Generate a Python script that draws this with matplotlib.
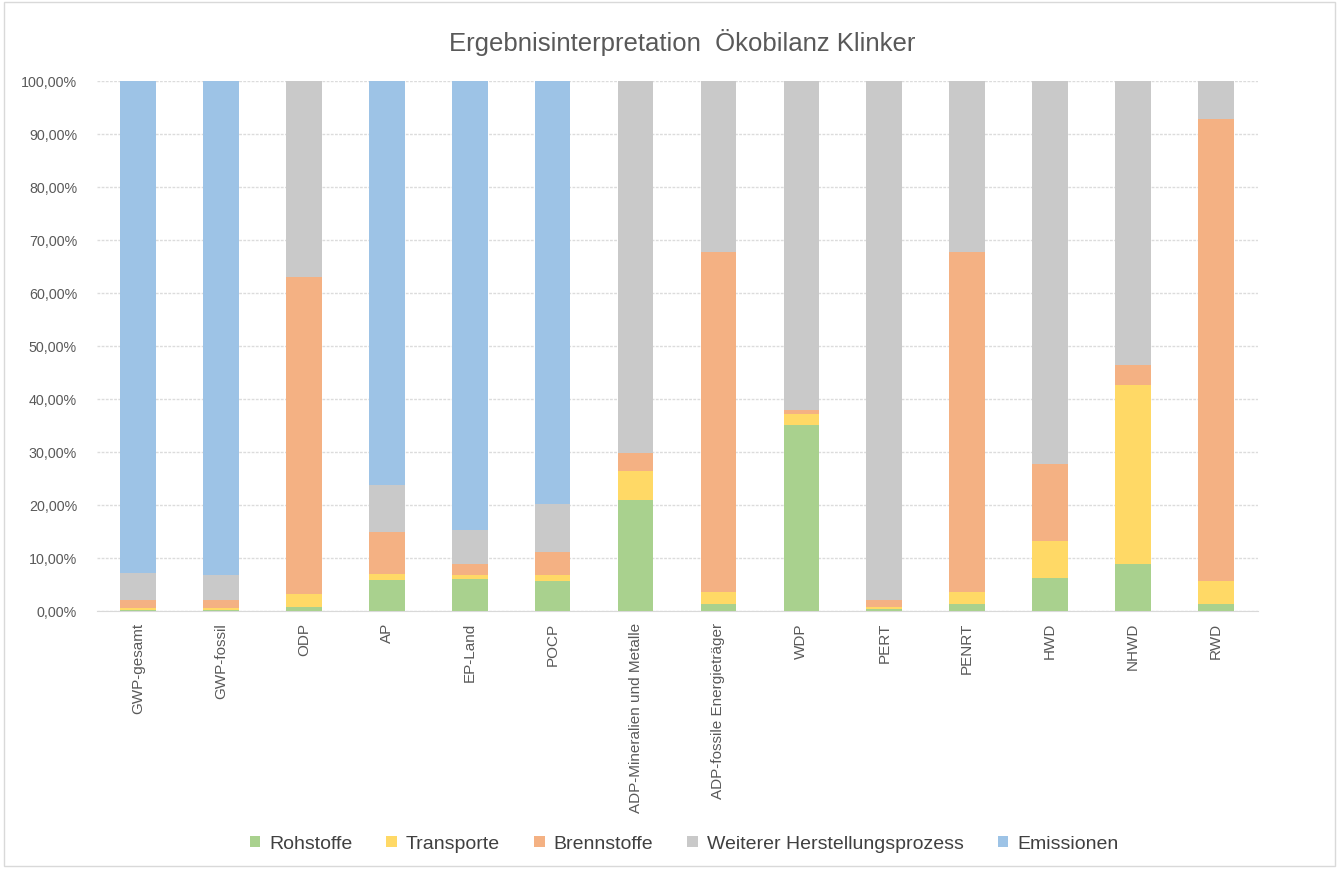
import numpy as np
import matplotlib
matplotlib.use('Agg')
import matplotlib.pyplot as plt
from matplotlib.ticker import FuncFormatter

plt.rcParams['font.family'] = ['Liberation Sans', 'DejaVu Sans']

categories = ['GWP-gesamt', 'GWP-fossil', 'ODP', 'AP', 'EP-Land', 'POCP',
              'ADP-Mineralien und Metalle', 'ADP-fossile Energieträger',
              'WDP', 'PERT', 'PENRT', 'HWD', 'NHWD', 'RWD']

rohstoffe = [0.1, 0.25, 0.8, 5.9, 6.0, 5.7, 21.0, 1.3, 35.1, 0.3, 1.3, 6.2, 8.8, 1.3]
transporte = [0.4, 0.25, 2.5, 1.1, 0.7, 1.0, 5.5, 2.3, 2.1, 0.5, 2.3, 7.1, 33.8, 4.3]
brennstoffe = [1.6, 1.5, 59.7, 7.9, 2.1, 4.4, 3.4, 64.1, 0.7, 1.2, 64.2, 14.4, 3.9, 87.2]
weiterer = [5.0, 4.7, 37.0, 8.9, 6.5, 9.1, 70.1, 32.3, 62.1, 98.0, 32.2, 72.3, 53.5, 7.2]
emissionen = [92.9, 93.3, 0, 76.2, 84.7, 79.8, 0, 0, 0, 0, 0, 0, 0, 0]

series = [
    ('Rohstoffe', rohstoffe, '#A9D18E'),
    ('Transporte', transporte, '#FFD966'),
    ('Brennstoffe', brennstoffe, '#F4B183'),
    ('Weiterer Herstellungsprozess', weiterer, '#C9C9C9'),
    ('Emissionen', emissionen, '#9DC3E6'),
]

text_color = '#595959'

fig = plt.figure(figsize=(13.39, 8.70), dpi=100)
ax = fig.add_axes([96.5 / 1339, 1 - 612 / 870, (1257.5 - 96.5) / 1339, (612 - 82) / 870])

x = np.arange(len(categories))
bottom = np.zeros(len(categories))
for name, vals, color in series:
    vals = np.array(vals) / 100
    ax.bar(x, vals, 0.43, bottom=bottom, color=color, label=name, zorder=3)
    bottom += vals

ax.set_xlim(-0.5, len(categories) - 0.5)
ax.set_ylim(0, 1)
ax.set_yticks(np.arange(0, 1.01, 0.1))
ax.yaxis.set_major_formatter(FuncFormatter(lambda v, p: f'{v * 100:.2f}%'.replace('.', ',')))
ax.grid(axis='y', color='#DCDCDC', linestyle=(0, (2, 1)), linewidth=1, zorder=0)
ax.set_xticks(x)
ax.set_xticklabels(categories, rotation=90, fontsize=11, color=text_color)
ax.tick_params(axis='y', labelsize=10.3, colors=text_color, length=0, pad=14)
ax.tick_params(axis='x', length=0, pad=8)
for s in ['top', 'right', 'left']:
    ax.spines[s].set_visible(False)
ax.spines['bottom'].set_color('#D9D9D9')

fig.text(682 / 1339, 1 - 43 / 870, 'Ergebnisinterpretation  Ökobilanz Klinker',
         ha='center', va='center', fontsize=18.5, color=text_color)

handles, labels = ax.get_legend_handles_labels()
fig.legend(handles, labels, loc='center', bbox_to_anchor=(684 / 1339, 1 - 845 / 870),
           ncol=5, frameon=False, fontsize=14, handlelength=0.55, handleheight=0.55,
           handletextpad=0.45, columnspacing=1.75, labelcolor='#404040')

border = plt.Rectangle((0.003, 0.004), 0.994, 0.992, transform=fig.transFigure,
                       fill=False, edgecolor='#D9D9D9', linewidth=1)
fig.patches.append(border)

fig.savefig('out.png', dpi=100)
